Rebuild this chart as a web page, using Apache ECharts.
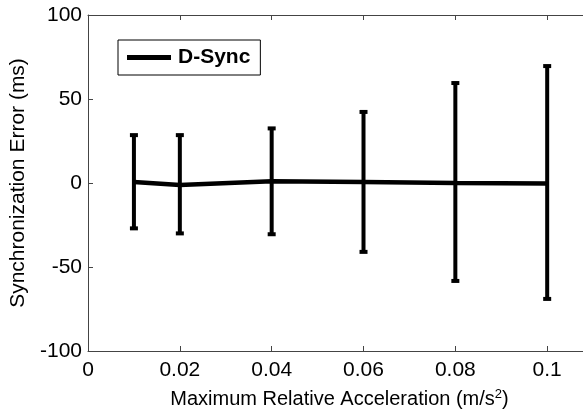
<!DOCTYPE html>
<html><head><meta charset="utf-8">
<script src="https://cdn.jsdelivr.net/npm/echarts@6/dist/echarts.min.js"></script>
<style>html,body{margin:0;padding:0;background:#fff}#c{width:583px;height:413px}</style>
</head><body><div id="c"></div>
<script>
var xVals = [0.01, 0.02, 0.04, 0.06, 0.08, 0.1];
var meanVals = [0.6, -1.2, 1, 0.6, 0, -0.3];
var upperVals = [28.5, 28.5, 32.5, 42.3, 59.5, 69.6];
var lowerVals = [-27, -30, -30.5, -41, -58.3, -69];
var xTicks = [0, 0.02, 0.04, 0.06, 0.08, 0.1];
var yTicks = [-100, -50, 0, 50, 100];
var seriesName = 'D-Sync';

var chart = echarts.init(document.getElementById('c'), null, {renderer:'canvas'});
var font = 'Liberation Sans, Arial, sans-serif';
var axisCol = '#444';
var errData = xVals.map(function(x,i){return [x, lowerVals[i], upperVals[i]];});
var xMax = 0.1078;
chart.setOption({
  animation:false,
  backgroundColor:'#fff',
  grid:{left:88, top:15, right:0, bottom:62, show:false, outerBoundsMode:'none', containLabel:false},
  legend:{
    data:[{name:seriesName, icon:'rect'}],
    left:118, top:40,
    itemWidth:44, itemHeight:5, itemGap:0,
    padding:[7,10,7,9],
    borderColor:'#000', borderWidth:1,
    textStyle:{fontFamily:font, fontSize:21, fontWeight:'bold', color:'#000', padding:[0,0,0,2]}
  },
  xAxis:[{
    type:'value', min:0, max:xMax, interval:0.02, position:'bottom',
    axisLine:{show:true, onZero:false, lineStyle:{color:axisCol, width:1}},
    axisTick:{show:true, inside:true, length:5, customValues:xTicks, lineStyle:{color:axisCol}},
    splitLine:{show:false},
    axisLabel:{fontFamily:font, fontSize:21, color:'#000', margin:9, customValues:xTicks,
      formatter:function(v){return String(Math.round(v*100)/100);}},
    name:'Maximum Relative Acceleration (m/s{sup|2})',
    nameLocation:'middle', nameGap:37,
    nameTextStyle:{fontFamily:font, fontSize:20, color:'#000', padding:[0,0,0,8],
      rich:{sup:{fontFamily:font, fontSize:13, color:'#000', verticalAlign:'top', padding:[0,0,10,0]}}}
  },{
    type:'value', min:0, max:xMax, interval:0.02, position:'top',
    axisLine:{show:true, onZero:false, lineStyle:{color:axisCol, width:1}},
    axisTick:{show:true, inside:true, length:5, customValues:xTicks, lineStyle:{color:axisCol}},
    axisLabel:{show:false}, splitLine:{show:false}
  }],
  yAxis:[{
    type:'value', min:-100, max:100, interval:50,
    axisLine:{show:true, onZero:false, lineStyle:{color:axisCol, width:1}},
    axisTick:{show:true, inside:true, length:5, lineStyle:{color:axisCol}},
    splitLine:{show:false},
    axisLabel:{fontFamily:font, fontSize:21, color:'#000', margin:6,
      formatter:function(v){return yTicks.indexOf(v)>=0 ? String(v) : '';}},
    name:'Synchronization Error (ms)', nameLocation:'middle', nameGap:51,
    nameTextStyle:{fontFamily:font, fontSize:21, color:'#000'}
  }],
  series:[{
    name:seriesName, type:'line', data:xVals.map(function(x,i){return [x, meanVals[i]];}),
    showSymbol:false, symbol:'none', lineStyle:{color:'#000', width:4.5}, itemStyle:{color:'#000'}, z:3
  },{
    name:'err', type:'custom', data:errData, z:4,
    renderItem:function(params, api){
      var x = api.value(0);
      var lo = api.coord([x, api.value(1)]);
      var hi = api.coord([x, api.value(2)]);
      var cw = 4;
      return {type:'group', children:[
        {type:'line', shape:{x1:lo[0], y1:lo[1], x2:hi[0], y2:hi[1]}, style:{stroke:'#000', lineWidth:4}},
        {type:'rect', shape:{x:hi[0]-cw, y:hi[1]-2, width:cw*2, height:4}, style:{fill:'#000'}},
        {type:'rect', shape:{x:lo[0]-cw, y:lo[1]-2, width:cw*2, height:4}, style:{fill:'#000'}}
      ]};
    }
  }]
});
</script></body></html>
